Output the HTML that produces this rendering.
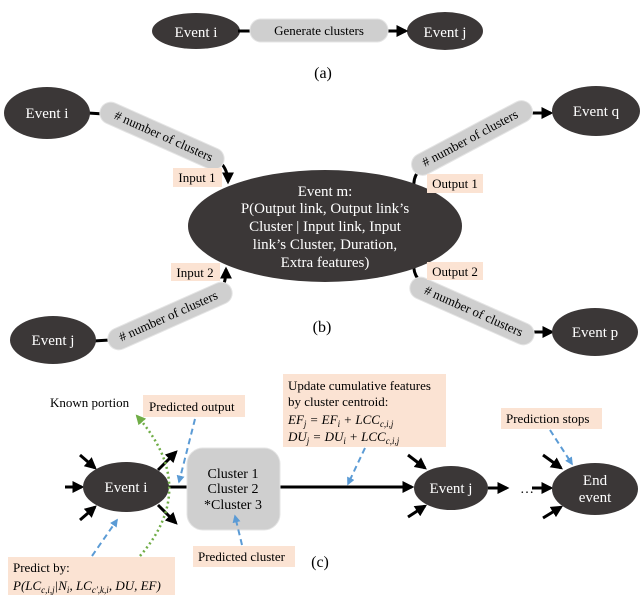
<!DOCTYPE html>
<html><head><meta charset="utf-8"><style>
html,body{margin:0;padding:0;background:#fff}
svg{display:block}
text{font-family:"Liberation Serif",serif}
</style></head><body>
<svg width="640" height="598" viewBox="0 0 640 598" xmlns="http://www.w3.org/2000/svg">
<defs>
<marker id="ah" viewBox="0 0 10 10" refX="8" refY="5" markerWidth="4" markerHeight="4" orient="auto"><path d="M0,0 L10,5 L0,10 z" fill="#000"/></marker>
<marker id="bh" viewBox="0 0 10 10" refX="8" refY="5" markerWidth="4" markerHeight="4" orient="auto"><path d="M0,0 L10,5 L0,10 z" fill="#5b9bd5"/></marker>
<marker id="gh" viewBox="0 0 10 10" refX="8" refY="5" markerWidth="4" markerHeight="4" orient="auto"><path d="M0,0 L10,5 L0,10 z" fill="#70ad47"/></marker>
</defs>
<g fill="#3b3737">
<!-- (a) -->
<ellipse cx="196" cy="31" rx="44" ry="18"/>
<ellipse cx="445" cy="31" rx="38" ry="19"/>
</g>
<line x1="238" y1="31" x2="252" y2="31" stroke="#000" stroke-width="3"/>
<line x1="386" y1="31" x2="406" y2="31" stroke="#000" stroke-width="3" marker-end="url(#ah)"/>
<rect x="250" y="19" width="138" height="23" rx="11" fill="#cfcfcf" stroke="#e4e4e4"/>
<text x="319" y="35" font-size="13" text-anchor="middle">Generate clusters</text>
<text x="196" y="37" font-size="15" fill="#fff" text-anchor="middle">Event i</text>
<text x="445" y="37" font-size="15" fill="#fff" text-anchor="middle">Event j</text>
<text x="323" y="78" font-size="16" text-anchor="middle">(a)</text>

<!-- (b) -->
<g stroke="#000" stroke-width="3" fill="none">
<line x1="88" y1="113" x2="104" y2="114"/>
<line x1="93" y1="341" x2="110" y2="340"/>
<path d="M220,162 Q228,170 228,182" marker-end="url(#ah)"/>
<path d="M222,290 Q226,280 226,269" marker-end="url(#ah)"/>
<path d="M418,172 Q413,178 414,188"/>
<path d="M418,279 Q413,272 414,264"/>
<line x1="530" y1="113" x2="551" y2="113" marker-end="url(#ah)"/>
<line x1="533" y1="332" x2="552" y2="332" marker-end="url(#ah)"/>
</g>
<g fill="#3b3737">
<ellipse cx="47" cy="113" rx="43" ry="26"/>
<ellipse cx="596" cy="111" rx="44" ry="25"/>
<ellipse cx="53" cy="340" rx="43" ry="24"/>
<ellipse cx="595" cy="332" rx="43" ry="24"/>
<ellipse cx="325" cy="226" rx="137" ry="56"/>
</g>
<g fill="#cfcfcf" stroke="#e4e4e4">
<rect x="-67" y="-11" width="134" height="22" rx="11" transform="translate(162,136) rotate(24)"/>
<rect x="-67" y="-11" width="134" height="22" rx="11" transform="translate(170,316) rotate(-24)"/>
<rect x="-67" y="-11" width="134" height="22" rx="11" transform="translate(472,138) rotate(-28)"/>
<rect x="-67" y="-11" width="134" height="22" rx="11" transform="translate(472,311) rotate(24)"/>
</g>
<g font-size="13" text-anchor="middle">
<text transform="translate(162,140) rotate(24)">#&#160;number of clusters</text>
<text transform="translate(170,320) rotate(-24)">#&#160;number of clusters</text>
<text transform="translate(472,142) rotate(-28)">#&#160;number of clusters</text>
<text transform="translate(472,315) rotate(24)">#&#160;number of clusters</text>
</g>
<g fill="#fbe3d3">
<rect x="173" y="168" width="49" height="19"/>
<rect x="171" y="263" width="49" height="18"/>
<rect x="427" y="174" width="56" height="19"/>
<rect x="427" y="262" width="56" height="18"/>
</g>
<g font-size="13" text-anchor="middle">
<text x="197" y="182">Input 1</text>
<text x="195" y="277">Input 2</text>
<text x="455" y="188">Output 1</text>
<text x="455" y="276">Output 2</text>
</g>
<g fill="#fff" font-size="15" text-anchor="middle">
<text x="47" y="118">Event i</text>
<text x="596" y="116">Event q</text>
<text x="53" y="345">Event j</text>
<text x="595" y="337">Event p</text>
<text x="325" y="196">Event m:</text>
<text x="325" y="213">P(Output link, Output link’s</text>
<text x="325" y="231">Cluster | Input link, Input</text>
<text x="325" y="249">link’s Cluster, Duration,</text>
<text x="325" y="267">Extra features)</text>
</g>
<text x="322" y="332" font-size="16" text-anchor="middle">(b)</text>

<!-- (c) -->
<g stroke="#000" stroke-width="3" fill="none" marker-end="url(#ah)">
<line x1="65" y1="487" x2="82" y2="487"/>
<line x1="80" y1="455" x2="95" y2="468"/>
<line x1="80" y1="520" x2="95" y2="507"/>
<line x1="158" y1="470" x2="176" y2="452"/>
<line x1="158" y1="505" x2="176" y2="523"/>
<line x1="408" y1="455" x2="425" y2="468"/>
<line x1="408" y1="517" x2="425" y2="506"/>
<line x1="543" y1="455" x2="561" y2="468"/>
<line x1="543" y1="518" x2="561" y2="507"/>
<line x1="280" y1="487" x2="412" y2="487"/>
<line x1="488" y1="488" x2="507" y2="488"/>
<line x1="532" y1="488" x2="551" y2="488"/>
</g>
<line x1="168" y1="487" x2="190" y2="487" stroke="#000" stroke-width="3"/>
<g fill="#3b3737">
<ellipse cx="126" cy="487" rx="43" ry="25"/>
<ellipse cx="451" cy="488" rx="37" ry="22"/>
<ellipse cx="595" cy="489" rx="43" ry="26"/>
</g>
<rect x="187" y="448" width="93" height="82" rx="16" fill="#cfcfcf" stroke="#e4e4e4"/>
<g font-size="14" text-anchor="middle">
<text x="233" y="478">Cluster 1</text>
<text x="233" y="493">Cluster 2</text>
<text x="233" y="509">*Cluster 3</text>
</g>
<text x="520" y="493" font-size="14">…</text>
<g fill="#fff" font-size="15" text-anchor="middle">
<text x="126" y="492">Event i</text>
<text x="451" y="493">Event j</text>
<text x="595" y="485">End</text>
<text x="595" y="502">event</text>
</g>
<path d="M140,556 Q200,487 137,416" stroke="#70ad47" stroke-width="2.5" fill="none" stroke-dasharray="2,3" marker-end="url(#gh)"/>
<g fill="#fbe3d3">
<rect x="143" y="395" width="102" height="22"/>
<rect x="8" y="557" width="167" height="38"/>
<rect x="193" y="546" width="102" height="21"/>
<rect x="283" y="374" width="163" height="73"/>
<rect x="501" y="408" width="101" height="21"/>
</g>
<g stroke="#5b9bd5" stroke-width="2" stroke-dasharray="6,4" fill="none" marker-end="url(#bh)">
<line x1="195" y1="419" x2="179" y2="482"/>
<line x1="92" y1="556" x2="117" y2="520"/>
<line x1="242" y1="545" x2="235" y2="516"/>
<line x1="365" y1="448" x2="348" y2="484"/>
<line x1="550" y1="430" x2="572" y2="464"/>
</g>
<g font-size="13">
<text x="50" y="407">Known portion</text>
<text x="149" y="411">Predicted output</text>
<text x="198" y="561">Predicted cluster</text>
<text x="506" y="423">Prediction stops</text>
<text x="13" y="572">Predict by:</text>
<text x="13" y="590" font-style="italic">P(LC<tspan font-size="9" dy="3">c,i,j</tspan><tspan dy="-3">|N</tspan><tspan font-size="9" dy="3">i</tspan><tspan dy="-3">, LC</tspan><tspan font-size="9" dy="3">c′,k,i</tspan><tspan dy="-3">, DU, EF)</tspan></text>
<text x="288" y="390">Update cumulative features</text>
<text x="288" y="406">by cluster centroid:</text>
<text x="288" y="424" font-style="italic">EF<tspan font-size="9" dy="3">j</tspan><tspan dy="-3"> = EF</tspan><tspan font-size="9" dy="3">i</tspan><tspan dy="-3"> +  LCC</tspan><tspan font-size="9" dy="3">c,i,j</tspan></text>
<text x="288" y="441" font-style="italic">DU<tspan font-size="9" dy="3">j</tspan><tspan dy="-3"> = DU</tspan><tspan font-size="9" dy="3">i</tspan><tspan dy="-3"> +  LCC</tspan><tspan font-size="9" dy="3">c,i,j</tspan></text>
</g>
<text x="320" y="567" font-size="16" text-anchor="middle">(c)</text>
</svg>
</body></html>
